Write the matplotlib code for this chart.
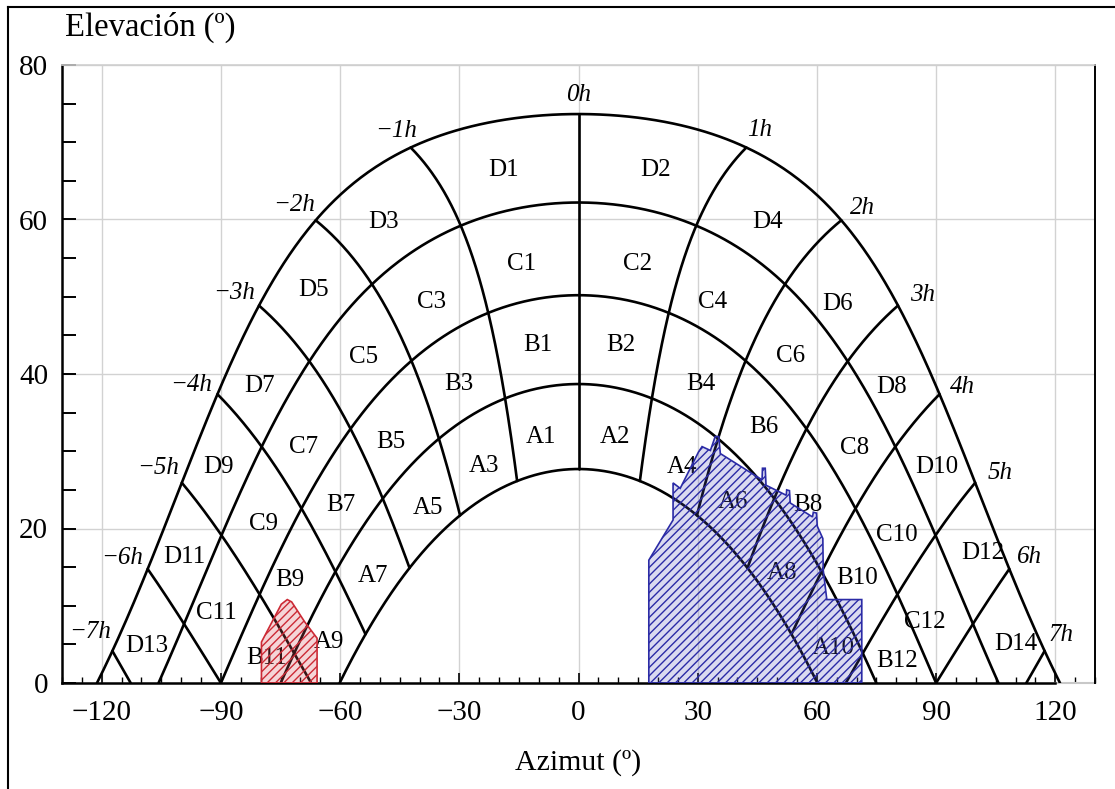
import numpy as np
import matplotlib
matplotlib.use("Agg")
import matplotlib.pyplot as plt
from matplotlib.patches import Polygon
from matplotlib.lines import Line2D
from matplotlib.ticker import MultipleLocator

# ---------------- data ----------------
LATITUDE = 39.8                                   # site latitude (deg)
DECLINATIONS = [23.45, 12.0, 0.0, -11.5, -22.5]   # sun-path arcs (deg)
HOURS = [-7, -6, -5, -4, -3, -2, -1, 0, 1, 2, 3, 4, 5, 6, 7]  # solar hours from noon

HOUR_LABELS = ["−7h", "−6h", "−5h", "−4h", "−3h", "−2h", "−1h", "0h",
               "1h", "2h", "3h", "4h", "5h", "6h", "7h"]
HOUR_LABEL_AZ = [-123.0, -115.0, -105.8, -97.5, -86.7, -71.6, -46.0, 0.0,
                 45.7, 71.4, 86.7, 96.7, 106.0, 113.6, 121.4]
HOUR_LABEL_EL = [6.6, 16.2, 27.8, 38.6, 50.5, 61.9, 71.5, 76.1,
                 71.6, 61.5, 50.2, 38.3, 27.2, 16.3, 6.2]

ZONE_NAMES = ["D1", "D2", "D3", "D4", "C1", "C2", "D5", "C3", "C4", "D6",
              "C5", "B1", "B2", "C6", "B3", "B4", "D7", "D8", "A1", "A2",
              "B6", "C7", "B5", "A3", "A4", "D9", "C8", "D10", "A5", "A6",
              "B7", "B8", "C9", "C10", "D11", "D12", "A7", "A8", "B9", "B10",
              "C11", "C12", "A9", "A10", "B11", "B12", "D13", "D14"]
ZONE_AZ = [-18.8, 19.3, -49.0, 47.7, -14.3, 14.8, -66.8, -36.9, 33.7, 65.3,
           -54.0, -10.3, 10.6, 53.3, -30.2, 30.7, -80.4, 78.9, -9.5, 9.3,
           46.7, -69.1, -47.2, -23.9, 26.1, -90.5, 69.6, 90.2, -37.9, 38.9,
           -59.8, 57.8, -79.4, 80.2, -99.2, 101.8, -51.8, 51.3, -72.6, 70.1,
           -91.2, 87.2, -62.8, 64.1, -78.6, 80.2, -108.7, 110.0]
ZONE_EL = [66.4, 66.4, 59.7, 59.7, 54.2, 54.2, 50.9, 49.3, 49.3, 49.1,
           42.2, 43.8, 43.8, 42.3, 38.7, 38.7, 38.4, 38.3, 31.8, 31.8,
           33.1, 30.6, 31.2, 28.1, 28.0, 28.0, 30.4, 28.0, 22.7, 23.4,
           23.0, 23.0, 20.6, 19.2, 16.3, 16.8, 13.9, 14.2, 13.3, 13.6,
           9.1, 7.9, 5.3, 4.5, 3.2, 2.8, 4.8, 5.0]

# obstacle profiles (azimuth, elevation)
RED_AZ = [-79.8, -79.8, -74.8, -73.3, -72.2, -68.9, -65.8, -65.8]
RED_EL = [0.0, 5.3, 10.2, 10.8, 10.5, 7.9, 5.8, 0.0]

BLUE_AZ = [17.7, 17.7, 23.8, 23.8, 25.6, 30.2, 31.1, 33.2, 34.4, 35.3, 35.7,
           46.2, 46.3, 47.0, 47.2, 52.3, 52.4, 53.1, 53.3, 58.9, 59.1, 59.9,
           60.1, 61.5, 61.6, 62.5, 71.3, 71.3]
BLUE_EL = [0.0, 15.9, 21.1, 25.9, 25.2, 29.9, 30.6, 30.1, 31.9, 31.9, 29.7,
           26.3, 27.8, 27.8, 25.6, 24.3, 25.0, 24.9, 23.3, 21.5, 22.1, 22.0,
           20.3, 18.7, 14.6, 10.8, 10.8, 0.0]

X_TICKS = [-120, -90, -60, -30, 0, 30, 60, 90, 120]
Y_TICKS = [0, 20, 40, 60, 80]


# ---------------- solar geometry ----------------
def sun_position(hour_angle, dec, lat):
    H = np.radians(hour_angle)
    d = np.radians(dec)
    p = np.radians(lat)
    sin_el = np.sin(p) * np.sin(d) + np.cos(p) * np.cos(d) * np.cos(H)
    el = np.degrees(np.arcsin(np.clip(sin_el, -1, 1)))
    az = np.degrees(np.arctan2(np.sin(H) * np.cos(d),
                               np.sin(p) * np.cos(d) * np.cos(H) - np.cos(p) * np.sin(d)))
    return az, el


SERIF = ["Liberation Serif", "DejaVu Serif"]
plt.rcParams["font.family"] = SERIF
plt.rcParams["hatch.linewidth"] = 1.0

fig = plt.figure(figsize=(11.15, 7.89), dpi=100)
ax = fig.add_axes([62 / 1115, 1 - 683 / 789, (1095 - 62) / 1115, (683 - 65) / 789])
ax.set_xlim(-130, 130)
ax.set_ylim(0, 80)

ax.grid(True, color="#d2d2d2", lw=1.0, zorder=0)
ax.set_axisbelow(True)

lat = LATITUDE
line_kw = dict(color="black", lw=1.9, zorder=3, solid_capstyle="round")

# declination arcs
for dec in DECLINATIONS:
    h0 = np.degrees(np.arccos(np.clip(-np.tan(np.radians(lat)) * np.tan(np.radians(dec)), -1, 1)))
    H = np.linspace(-h0, h0, 600)
    az, el = sun_position(H, dec, lat)
    ax.plot(az, el, **line_kw)

# hour lines
dec_max, dec_min = DECLINATIONS[0], DECLINATIONS[-1]
for h in HOURS:
    Hdeg = 15.0 * h
    dec_h = np.degrees(np.arctan(-np.cos(np.radians(Hdeg)) / np.tan(np.radians(lat))))
    dec_end = max(dec_min, dec_h)
    dd = np.linspace(dec_max, dec_end, 300)
    az, el = sun_position(np.full_like(dd, Hdeg), dd, lat)
    ax.plot(az, el, **line_kw)

# hour labels
for lab, a, e in zip(HOUR_LABELS, HOUR_LABEL_AZ, HOUR_LABEL_EL):
    ax.text(a, e, lab, fontsize=18, style="italic", ha="center", va="center",
            zorder=5, family=SERIF)

# zone labels
for lab, a, e in zip(ZONE_NAMES, ZONE_AZ, ZONE_EL):
    ax.text(a, e, lab, fontsize=18, ha="center", va="center", zorder=5, family=SERIF)

# obstacles
red = "#cc2a35"
blue = "#2b2ba6"
ax.add_patch(Polygon(np.column_stack([RED_AZ, RED_EL]), closed=True,
                     facecolor=(0.85, 0.35, 0.38, 0.25), edgecolor=red, lw=1.2,
                     hatch="////", zorder=6))
ax.add_patch(Polygon(np.column_stack([BLUE_AZ, BLUE_EL]), closed=True,
                     facecolor=(0.35, 0.35, 0.75, 0.22), edgecolor=blue, lw=1.2,
                     hatch="////", zorder=6))

# ticks / spines
ax.set_xticks(X_TICKS)
ax.set_yticks(Y_TICKS)
ax.set_xticklabels([str(t).replace("-", "−") for t in X_TICKS])
ax.xaxis.set_minor_locator(MultipleLocator(5))
ax.yaxis.set_minor_locator(MultipleLocator(5))
ax.tick_params(axis="both", which="both", direction="in", labelsize=21)
ax.tick_params(axis="x", which="major", length=7, width=1.2, pad=12)
ax.tick_params(axis="x", which="minor", length=4, width=1.0)
ax.tick_params(axis="y", which="major", length=10, width=1.4, pad=10)
ax.tick_params(axis="y", which="minor", length=10, width=1.4)
ax.tick_params(top=False, right=False, which="both")

ax.spines["left"].set_linewidth(1.8)
ax.spines["bottom"].set_linewidth(1.8)
ax.spines["bottom"].set_bounds(-130, 120)
ax.spines["right"].set_linewidth(1.4)
ax.spines["top"].set_color("#cfcfcf")
ax.spines["top"].set_linewidth(1.2)
ax.plot([120, 130], [0, 0], color="#c8c8c8", lw=1.5, clip_on=False, zorder=2)

for lbl in ax.get_xticklabels() + ax.get_yticklabels():
    lbl.set_family(SERIF)

# axis titles
fig.text(65 / 1115, 1 - 27 / 789, "Elevación (º)", fontsize=23.5, ha="left", va="center",
         family=SERIF)
fig.text(578 / 1115, 1 - 763 / 789, "Azimut (º)", fontsize=21.5, ha="center", va="center",
         family=SERIF)

# outer frame of the picture
fig.add_artist(Line2D([8 / 1115, 8 / 1115], [0, 1 - 7 / 789], color="black", lw=1.5,
                      transform=fig.transFigure))
fig.add_artist(Line2D([8 / 1115, 1], [1 - 7 / 789, 1 - 7 / 789], color="black", lw=1.5,
                      transform=fig.transFigure))

fig.savefig("out.png", dpi=100)
